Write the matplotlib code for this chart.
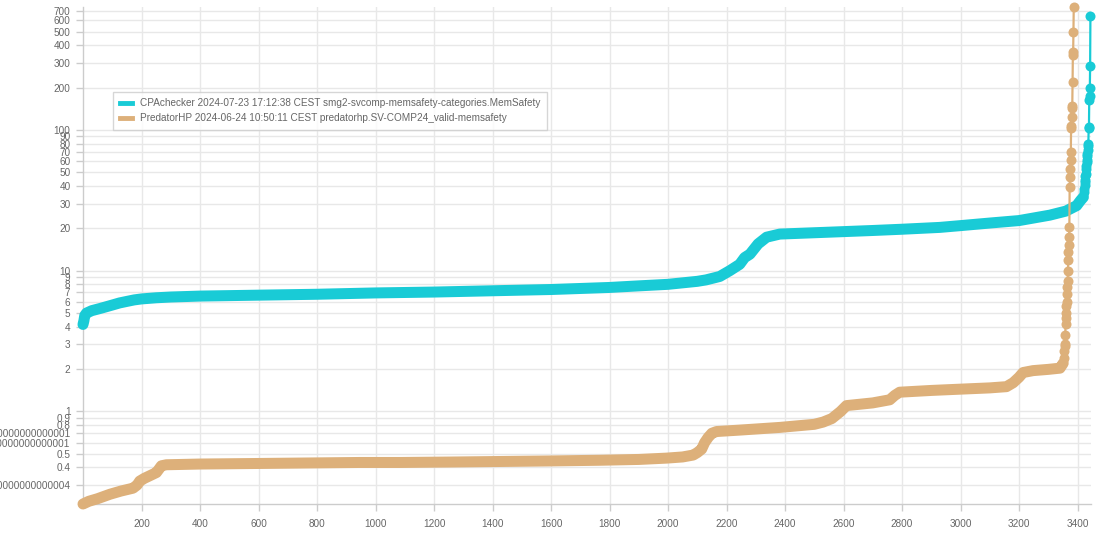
import numpy as np
import matplotlib
matplotlib.use("Agg")
import matplotlib.pyplot as plt
from matplotlib.lines import Line2D

# ---------------- data ----------------
cpa_label = "CPAchecker 2024-07-23 17:12:38 CEST smg2-svcomp-memsafety-categories.MemSafety"
pred_label = "PredatorHP 2024-06-24 10:50:11 CEST predatorhp.SV-COMP24_valid-memsafety"

# CPAchecker: dense part (rank, time)
cpa_body_rank = [0, 3, 6, 12, 30, 60, 100, 125, 150, 175, 200, 250, 300, 400, 600, 800,
                 1000, 1200, 1400, 1600, 1800, 1900, 2000, 2100, 2130, 2177, 2211, 2245,
                 2262, 2280, 2308, 2337, 2382, 2500, 2587, 2700, 2800, 2929, 3000, 3100,
                 3200, 3305, 3360, 3397, 3410, 3420]
cpa_body_time = [4.15, 4.4, 4.8, 5.0, 5.2, 5.4, 5.7, 5.9, 6.05, 6.2, 6.3, 6.42, 6.5, 6.6,
                 6.7, 6.8, 6.95, 7.05, 7.2, 7.35, 7.6, 7.8, 8.0, 8.4, 8.6, 9.1, 10.0, 11.1,
                 12.4, 13.1, 15.5, 17.3, 18.2, 18.6, 18.9, 19.3, 19.7, 20.3, 20.9, 21.8,
                 22.7, 24.8, 26.5, 29.0, 31.5, 33.3]
# CPAchecker: sparse tail (consecutive ranks)
cpa_tail_start = 3422
cpa_tail_time = [36, 38, 40.4, 42.6, 44, 47.3, 49, 53, 55, 59, 61, 65.7, 68, 72, 77,
                 80, 103, 105, 164, 173, 199, 283, 643]

# PredatorHP: dense part (rank, time)
pred_body_rank = [0, 20, 50, 92, 130, 171, 185, 194, 210, 228, 251, 260, 268, 285, 400,
                  604, 800, 946, 1083, 1250, 1426, 1600, 1768, 1900, 1995, 2050, 2086,
                  2100, 2115, 2125, 2137, 2150, 2166, 2245, 2382, 2500, 2530, 2560,
                  2590, 2610, 2700, 2758, 2775, 2792, 2900, 3000, 3100, 3157, 3180,
                  3200, 3214, 3248, 3300, 3340, 3351]
pred_body_time = [0.22, 0.23, 0.24, 0.258, 0.272, 0.285, 0.30, 0.32, 0.335, 0.349,
                  0.368, 0.39, 0.411, 0.418, 0.423, 0.427, 0.431, 0.434, 0.434, 0.437,
                  0.441, 0.445, 0.45, 0.456, 0.466, 0.475, 0.49, 0.51, 0.54, 0.60,
                  0.653, 0.70, 0.72, 0.737, 0.77, 0.81, 0.84, 0.89, 1.0, 1.1, 1.15,
                  1.21, 1.30, 1.37, 1.41, 1.44, 1.47, 1.50, 1.6, 1.75, 1.89, 1.95,
                  1.99, 2.03, 2.2]
# PredatorHP: sparse tail (consecutive ranks)
pred_tail_start = 3354
pred_tail_time = [2.4, 2.7, 2.9, 3.0, 3.5, 4.2, 4.6, 5.0, 5.6, 6.0, 6.8, 7.6, 8.4, 10,
                  11.9, 13.5, 15.1, 17.3, 20.3, 39.2, 46.1, 53.1, 60.8, 69.7, 104, 106,
                  123, 142, 149, 219, 340, 357, 500, 747]

x_ticks = [200, 400, 600, 800, 1000, 1200, 1400, 1600, 1800, 2000, 2200, 2400, 2600,
           2800, 3000, 3200, 3400]
y_ticks = [0.3, 0.4, 0.5, 0.6, 0.7, 0.8, 0.9, 1, 2, 3, 4, 5, 6, 7, 8, 9, 10, 20, 30, 40,
           50, 60, 70, 80, 90, 100, 200, 300, 400, 500, 600, 700]
y_tick_labels = ["0.30000000000000004", "0.4", "0.5", "0.6000000000000001",
                 "0.7000000000000001", "0.8", "0.9", "1", "2", "3", "4", "5", "6", "7",
                 "8", "9", "10", "20", "30", "40", "50", "60", "70", "80", "90", "100",
                 "200", "300", "400", "500", "600", "700"]

# ---------------- styling ----------------
CYAN = "#19cbd6"
TAN = "#ddb07a"
TXT = "#666666"
GRID = "#e8e8e8"
AXIS = "#cccccc"
plt.rcParams['font.family'] = ['Liberation Sans', 'DejaVu Sans']
FS = 7.2

W, H, DPI = 1102, 534, 100
fig = plt.figure(figsize=(W / DPI, H / DPI), dpi=DPI)
L, R, T, B = 83, 1091, 7, 504
ax = fig.add_axes([L / W, (H - B) / H, (R - L) / W, (B - T) / H])

band = 11 * 72 / DPI   # dot diameter in points
dot = 10 * 72 / DPI


def draw(body_r, body_t, tail_start, tail_t, color, z):
    tail_r = list(range(tail_start, tail_start + len(tail_t)))
    ax.plot(body_r, body_t, color=color, lw=band, solid_capstyle='round',
            solid_joinstyle='round', zorder=z, clip_on=False)
    ax.plot([body_r[-1]] + tail_r, [body_t[-1]] + tail_t, color=color, lw=1.6,
            zorder=z, clip_on=False)
    ax.plot(tail_r, tail_t, linestyle='none', marker='o', ms=dot, color=color,
            markeredgewidth=0, zorder=z + 0.1, clip_on=False)


draw(cpa_body_rank, cpa_body_time, cpa_tail_start, cpa_tail_time, CYAN, 3)
draw(pred_body_rank, pred_body_time, pred_tail_start, pred_tail_time, TAN, 4)

ax.set_yscale('log')
ax.set_xlim(0, 3446)
ax.set_ylim(0.22, 747)
ax.set_xticks(x_ticks)
ax.set_xticklabels([str(v) for v in x_ticks])
ax.set_yticks(y_ticks)
ax.set_yticklabels(y_tick_labels)
ax.yaxis.set_minor_locator(matplotlib.ticker.NullLocator())
ax.xaxis.set_minor_locator(matplotlib.ticker.NullLocator())

ax.grid(True, color=GRID, lw=1.0, zorder=0)
ax.set_axisbelow(True)
for s in ['top', 'right']:
    ax.spines[s].set_visible(False)
for s in ['left', 'bottom']:
    ax.spines[s].set_color(AXIS)
    ax.spines[s].set_linewidth(1.0)
ax.tick_params(axis='both', colors=AXIS, labelcolor=TXT, labelsize=FS, length=5,
               width=1)
ax.tick_params(axis='y', pad=4)
ax.tick_params(axis='x', pad=6)

handles = [Line2D([], [], color=CYAN, lw=3.5), Line2D([], [], color=TAN, lw=3.5)]
leg = fig.legend(handles, [cpa_label, pred_label], loc='upper left',
                 bbox_to_anchor=(113 / W, 1 - 92 / H), fontsize=FS, frameon=True,
                 fancybox=False, edgecolor=AXIS, handlelength=1.2, handletextpad=0.9,
                 borderpad=0.65, labelspacing=0.45, borderaxespad=0)
for t in leg.get_texts():
    t.set_color(TXT)
leg.get_frame().set_linewidth(1.0)

fig.savefig("out.png", dpi=DPI)
